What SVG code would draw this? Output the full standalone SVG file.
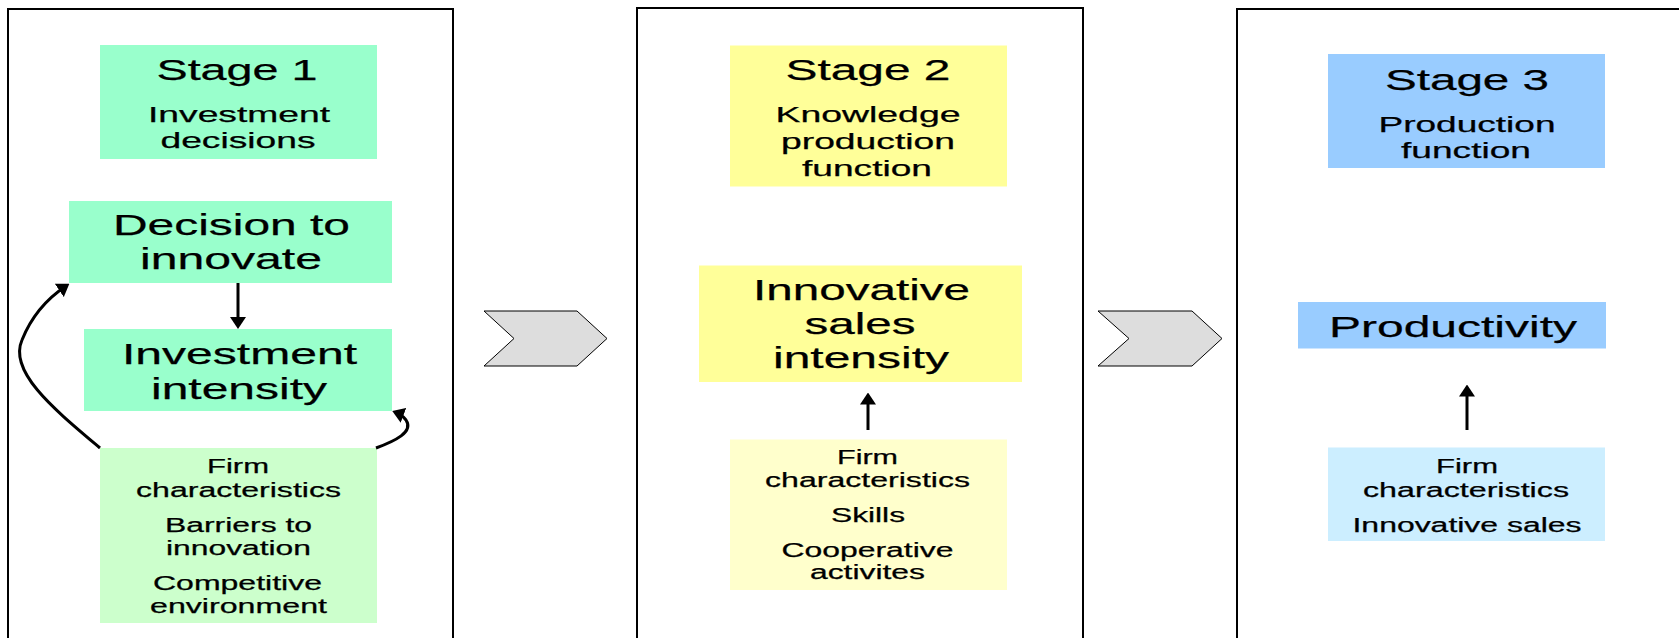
<svg xmlns="http://www.w3.org/2000/svg" width="1679" height="638" viewBox="0 0 1679 638">
  <style>
    .panel { fill: #ffffff; stroke: #000000; stroke-width: 2; }
    .chev { fill: #dddddd; stroke: #000000; stroke-width: 1; }
    .g1 { fill: #99ffcc; }
    .g1l { fill: #ccffcc; }
    .y2 { fill: #ffff99; }
    .y2l { fill: #ffffcc; }
    .b3 { fill: #99ccff; }
    .b3l { fill: #cceeff; }
    text { font-family: "Liberation Sans", Arial, sans-serif; fill: #000000; text-anchor: middle; stroke: #000000; stroke-width: 0.25; }
    .title { font-size: 29px; }
    .sub { font-size: 22px; }
    .main { font-size: 30px; }
    .item { font-size: 20px; }
    .conn { fill: none; stroke: #000000; stroke-width: 3; }
  </style>
  <defs>
    <marker id="head" markerUnits="userSpaceOnUse" markerWidth="12" markerHeight="16" viewBox="0 0 12 16" refX="8" refY="8" orient="auto">
      <path d="M0,0 L12,8 L0,16 z" fill="#000000"/>
    </marker>
  </defs>

  <rect width="1679" height="638" fill="#ffffff"/>

  <!-- stage panels -->
  <g id="panels">
    <rect class="panel" x="8" y="9" width="445" height="700"/>
    <rect class="panel" x="637" y="8" width="446" height="700"/>
    <rect class="panel" x="1237" y="9" width="500" height="700"/>
  </g>

  <!-- chevrons between stages -->
  <g id="chevrons">
    <polygon class="chev" points="484,311 577,311 607,338.5 577,366 484,366 514,338.5"/>
    <polygon class="chev" points="1098,311 1192,311 1222,338.5 1192,366 1098,366 1129,338.5"/>
  </g>

  <!-- Stage 1 -->
  <g id="stage1-title">
    <rect class="g1" x="100" y="45" width="277" height="114"/>
    <text class="title" x="237" y="80" textLength="161" lengthAdjust="spacingAndGlyphs">Stage 1</text>
    <text class="sub" x="239" y="122" textLength="182" lengthAdjust="spacingAndGlyphs">Investment</text>
    <text class="sub" x="238" y="148" textLength="155" lengthAdjust="spacingAndGlyphs">decisions</text>
  </g>
  <g id="decision">
    <rect class="g1" x="69" y="201" width="323" height="82"/>
    <text class="main" x="231.5" y="235" textLength="237" lengthAdjust="spacingAndGlyphs">Decision to</text>
    <text class="main" x="231" y="269" textLength="182" lengthAdjust="spacingAndGlyphs">innovate</text>
  </g>
  <g id="investment-intensity">
    <rect class="g1" x="84" y="329" width="308" height="82"/>
    <text class="main" x="239.5" y="364" textLength="235" lengthAdjust="spacingAndGlyphs">Investment</text>
    <text class="main" x="239" y="399" textLength="176" lengthAdjust="spacingAndGlyphs">intensity</text>
  </g>
  <g id="stage1-factors">
    <rect class="g1l" x="100" y="448" width="277" height="175"/>
    <text class="item" x="238" y="473" textLength="62" lengthAdjust="spacingAndGlyphs">Firm</text>
    <text class="item" x="238.5" y="497" textLength="205" lengthAdjust="spacingAndGlyphs">characteristics</text>
    <text class="item" x="238.5" y="532" textLength="147" lengthAdjust="spacingAndGlyphs">Barriers to</text>
    <text class="item" x="238.5" y="555" textLength="145" lengthAdjust="spacingAndGlyphs">innovation</text>
    <text class="item" x="237.5" y="590" textLength="169" lengthAdjust="spacingAndGlyphs">Competitive</text>
    <text class="item" x="238.5" y="613" textLength="177" lengthAdjust="spacingAndGlyphs">environment</text>
  </g>

  <!-- Stage 2 -->
  <g id="stage2-title">
    <rect class="y2" x="730" y="45.5" width="277" height="141"/>
    <text class="title" x="868" y="80" textLength="165" lengthAdjust="spacingAndGlyphs">Stage 2</text>
    <text class="sub" x="868" y="122" textLength="185" lengthAdjust="spacingAndGlyphs">Knowledge</text>
    <text class="sub" x="868" y="148.5" textLength="174" lengthAdjust="spacingAndGlyphs">production</text>
    <text class="sub" x="867" y="175.5" textLength="130" lengthAdjust="spacingAndGlyphs">function</text>
  </g>
  <g id="innovative-sales-intensity">
    <rect class="y2" x="699" y="265.5" width="323" height="116.5"/>
    <text class="main" x="861.5" y="300" textLength="217" lengthAdjust="spacingAndGlyphs">Innovative</text>
    <text class="main" x="860" y="333.5" textLength="111" lengthAdjust="spacingAndGlyphs">sales</text>
    <text class="main" x="861" y="368" textLength="176" lengthAdjust="spacingAndGlyphs">intensity</text>
  </g>
  <g id="stage2-factors">
    <rect class="y2l" x="730" y="439.5" width="277" height="150.5"/>
    <text class="item" x="867.5" y="464" textLength="61" lengthAdjust="spacingAndGlyphs">Firm</text>
    <text class="item" x="867.5" y="487" textLength="205" lengthAdjust="spacingAndGlyphs">characteristics</text>
    <text class="item" x="868" y="522" textLength="74" lengthAdjust="spacingAndGlyphs">Skills</text>
    <text class="item" x="867.5" y="556.5" textLength="172" lengthAdjust="spacingAndGlyphs">Cooperative</text>
    <text class="item" x="867.5" y="579" textLength="115" lengthAdjust="spacingAndGlyphs">activites</text>
  </g>

  <!-- Stage 3 -->
  <g id="stage3-title">
    <rect class="b3" x="1328" y="54" width="277" height="114"/>
    <text class="title" x="1467" y="89.5" textLength="164" lengthAdjust="spacingAndGlyphs">Stage 3</text>
    <text class="sub" x="1467" y="131.5" textLength="177" lengthAdjust="spacingAndGlyphs">Production</text>
    <text class="sub" x="1466" y="158" textLength="130" lengthAdjust="spacingAndGlyphs">function</text>
  </g>
  <g id="productivity">
    <rect class="b3" x="1298" y="302" width="308" height="46.5"/>
    <text class="main" x="1453" y="336.5" textLength="248" lengthAdjust="spacingAndGlyphs">Productivity</text>
  </g>
  <g id="stage3-factors">
    <rect class="b3l" x="1328" y="447.5" width="277" height="93.5"/>
    <text class="item" x="1467" y="473" textLength="62" lengthAdjust="spacingAndGlyphs">Firm</text>
    <text class="item" x="1466" y="497" textLength="206" lengthAdjust="spacingAndGlyphs">characteristics</text>
    <text class="item" x="1467" y="532" textLength="229" lengthAdjust="spacingAndGlyphs">Innovative sales</text>
  </g>

  <!-- connectors -->
  <g id="connectors">
    <path class="conn" d="M238,283 L238,325" marker-end="url(#head)"/>
    <path class="conn" d="M100,448 C55,410 8,372 22,340 C32,315 48,298 66,286" marker-end="url(#head)"/>
    <path class="conn" d="M376,448 C395,441 414,432 406,420 C403,416 400,414 396,412.5" marker-end="url(#head)"/>
    <path class="conn" d="M868,430 L868,396.5" marker-end="url(#head)"/>
    <path class="conn" d="M1467,430 L1467,388.5" marker-end="url(#head)"/>
  </g>
</svg>
